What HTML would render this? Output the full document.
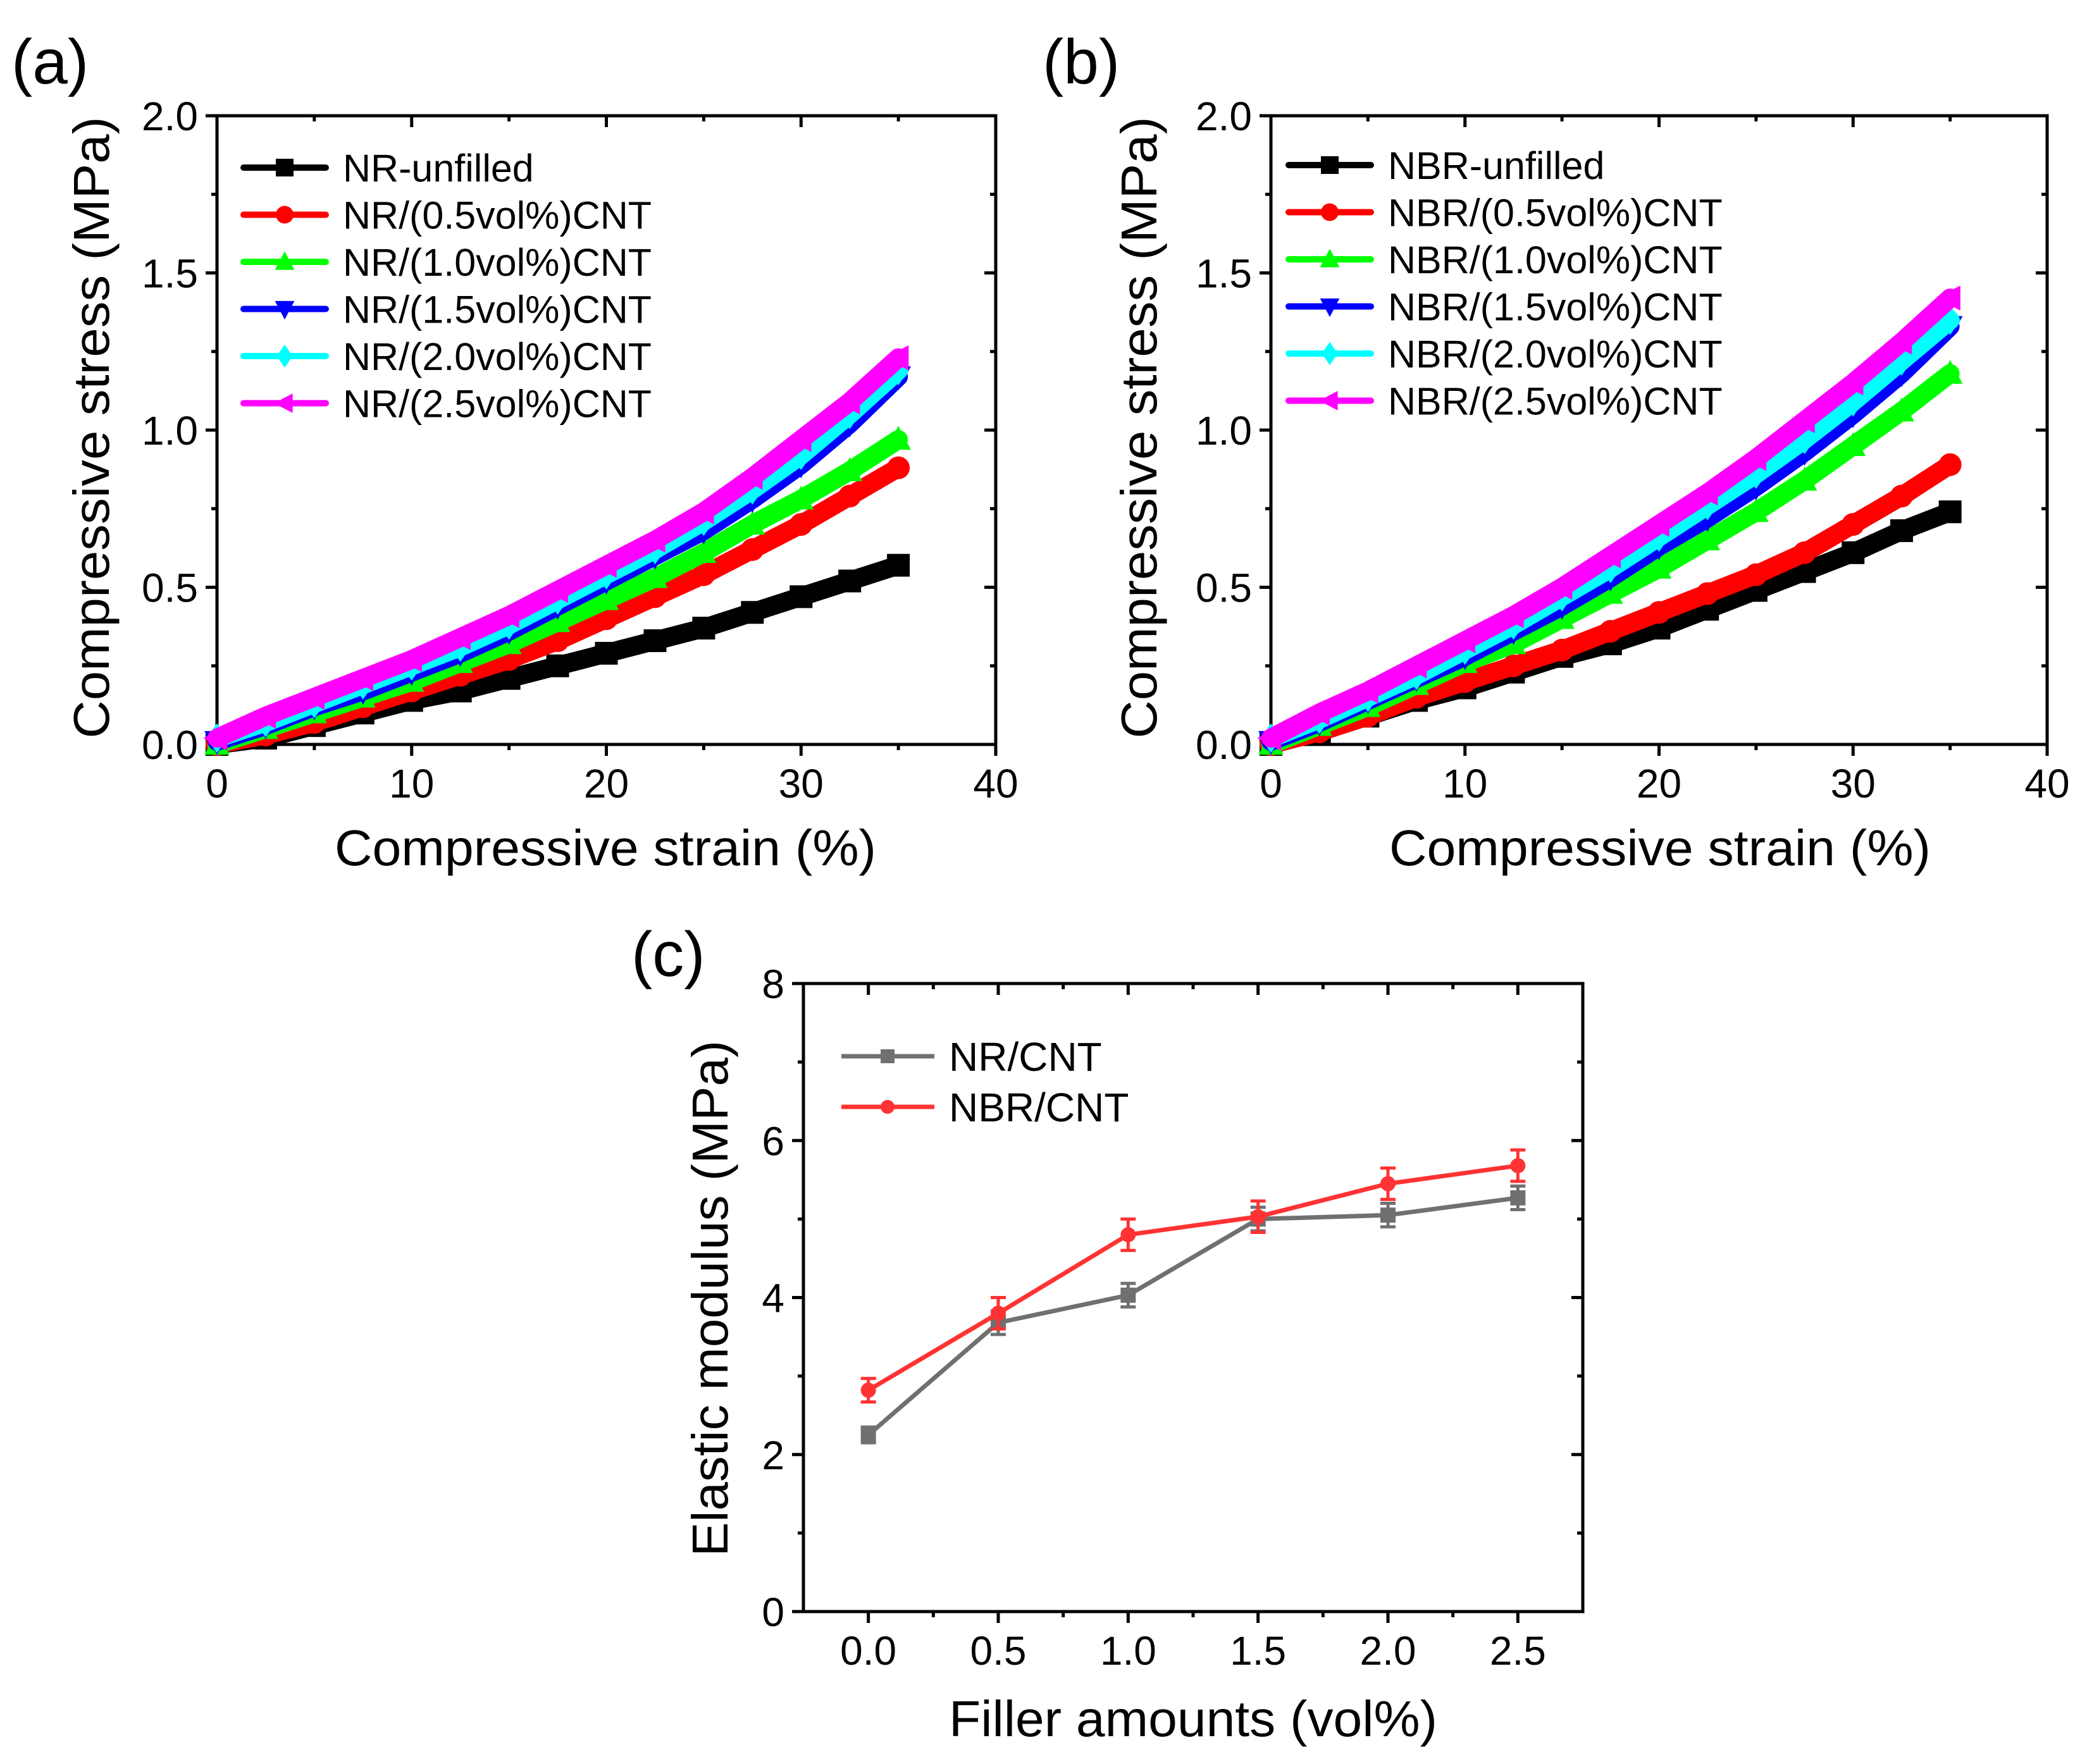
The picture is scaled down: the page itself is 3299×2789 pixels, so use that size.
<!DOCTYPE html>
<html><head><meta charset="utf-8"><style>
html,body{margin:0;padding:0;background:#fff}
svg{display:block}
text{font-family:"Liberation Sans",Arial,sans-serif;fill:#000}
</style></head><body>
<svg id="fig" width="3299" height="2789" viewBox="0 0 3299 2789" xmlns="http://www.w3.org/2000/svg">
<text x="18" y="132" font-size="100">(a)</text>
<text x="1648" y="132" font-size="100">(b)</text>
<text x="998" y="1543" font-size="100">(c)</text>
</svg>
<script>
// ---------- data ----------
const strain = [0,2.5,5,7.5,10,12.5,15,17.5,20,22.5,25,27.5,30,32.5,35];
const namesA = ["NR-unfilled","NR/(0.5vol%)CNT","NR/(1.0vol%)CNT","NR/(1.5vol%)CNT","NR/(2.0vol%)CNT","NR/(2.5vol%)CNT"];
const namesB = ["NBR-unfilled","NBR/(0.5vol%)CNT","NBR/(1.0vol%)CNT","NBR/(1.5vol%)CNT","NBR/(2.0vol%)CNT","NBR/(2.5vol%)CNT"];
const a0 = [0,0.02,0.06,0.10,0.14,0.17,0.21,0.25,0.29,0.33,0.37,0.42,0.47,0.52,0.57];
const a1 = [0,0.03,0.07,0.12,0.17,0.22,0.27,0.33,0.40,0.47,0.54,0.62,0.70,0.79,0.88];
const a2 = [0,0.05,0.10,0.15,0.20,0.26,0.32,0.39,0.46,0.53,0.61,0.70,0.78,0.87,0.97];
const a3 = [0.01,0.06,0.12,0.17,0.23,0.29,0.36,0.44,0.52,0.60,0.68,0.78,0.89,1.02,1.17];
const a4 = [0.02,0.07,0.13,0.19,0.25,0.31,0.38,0.46,0.54,0.62,0.71,0.81,0.92,1.05,1.19];
const a5 = [0.02,0.09,0.15,0.21,0.27,0.34,0.41,0.49,0.57,0.65,0.74,0.85,0.97,1.09,1.23];
const b0 = [0,0.04,0.09,0.14,0.18,0.23,0.28,0.32,0.37,0.43,0.49,0.55,0.61,0.68,0.74];
const b1 = [0,0.04,0.09,0.15,0.20,0.25,0.30,0.36,0.42,0.48,0.54,0.61,0.70,0.79,0.89];
const b2 = [0,0.06,0.12,0.19,0.26,0.32,0.40,0.48,0.56,0.65,0.74,0.84,0.95,1.06,1.18];
const b3 = [0.01,0.07,0.14,0.21,0.28,0.36,0.44,0.53,0.63,0.72,0.82,0.93,1.05,1.18,1.33];
const b4 = [0.02,0.08,0.15,0.22,0.30,0.38,0.47,0.56,0.66,0.76,0.86,0.97,1.09,1.22,1.35];
const b5 = [0.02,0.10,0.17,0.25,0.33,0.41,0.50,0.60,0.70,0.80,0.91,1.03,1.15,1.28,1.42];
const strainTicks = ["0","10","20","30","40"];
const stressTicks = ["0.0","0.5","1.0","1.5","2.0"];
const filler = [0,0.5,1.0,1.5,2.0,2.5];
const fillerTicks = ["0.0","0.5","1.0","1.5","2.0","2.5"];
const modTicks = ["0","2","4","6","8"];
const nrMod = [2.25,3.68,4.03,5.00,5.05,5.27];
const nrErr = [0.10,0.15,0.15,0.15,0.15,0.15];
const nbrMod = [2.82,3.80,4.80,5.03,5.45,5.68];
const nbrErr = [0.15,0.20,0.20,0.20,0.20,0.20];

const colors = ["#000000","#ff0000","#00ff00","#0000ff","#00ffff","#ff00ff"];
const shapes = ["square","circle","up","down","diamond","left"];
const NS = "http://www.w3.org/2000/svg";
const svg = document.getElementById("fig");
function mk(tag, attrs, parent){const e=document.createElementNS(NS,tag);for(const k in attrs)e.setAttribute(k,attrs[k]);(parent||svg).appendChild(e);return e;}
function marker(shape,x,y,s,col,parent){
  let e;
  if(shape==="square") e=mk("rect",{x:x-s/2,y:y-s/2,width:s,height:s,fill:col},parent);
  else if(shape==="circle") e=mk("circle",{cx:x,cy:y,r:s/2,fill:col},parent);
  else if(shape==="up") e=mk("polygon",{points:`${x},${y-s*0.6} ${x+s*0.55},${y+s*0.45} ${x-s*0.55},${y+s*0.45}`,fill:col},parent);
  else if(shape==="down") e=mk("polygon",{points:`${x},${y+s*0.6} ${x+s*0.55},${y-s*0.45} ${x-s*0.55},${y-s*0.45}`,fill:col},parent);
  else if(shape==="diamond") e=mk("polygon",{points:`${x},${y-s*0.65} ${x+s*0.45},${y} ${x},${y+s*0.65} ${x-s*0.45},${y}`,fill:col},parent);
  else e=mk("polygon",{points:`${x-s*0.6},${y} ${x+s*0.45},${y-s*0.55} ${x+s*0.45},${y+s*0.55}`,fill:col},parent);
  return e;
}
function axesFrame(g,L,R,T,B,xmin,xmax,ymin,ymax,xMaj,xLabels,yMaj,yLabels,xTickVals,name){
  const sx=v=>L+(v-xmin)/(xmax-xmin)*(R-L);
  const sy=v=>B-(v-ymin)/(ymax-ymin)*(B-T);
  const fr=mk("rect",{x:L,y:T,width:R-L,height:B-T,fill:"none",stroke:"#000","stroke-width":5},g);
  
  
  xTickVals.forEach((v,i)=>{
    const x=sx(v);
    mk("line",{x1:x,y1:B,x2:x,y2:B+18,stroke:"#000","stroke-width":5},g);
    mk("line",{x1:x,y1:T,x2:x,y2:T+18,stroke:"#000","stroke-width":5},g);
    const t=mk("text",{x:x,y:B+84,"font-size":64,"text-anchor":"middle"},g);
    t.textContent=xLabels[i];
    
    
    const m=v+xMaj/2;
    if(m<xmax){const xm=sx(m);
      mk("line",{x1:xm,y1:B,x2:xm,y2:B+9,stroke:"#000","stroke-width":5},g);
      mk("line",{x1:xm,y1:T,x2:xm,y2:T+9,stroke:"#000","stroke-width":5},g);}
    const m2=v-xMaj/2;
    if(i===0&&m2>xmin){const xm=sx(m2);
      mk("line",{x1:xm,y1:B,x2:xm,y2:B+9,stroke:"#000","stroke-width":5},g);
      mk("line",{x1:xm,y1:T,x2:xm,y2:T+9,stroke:"#000","stroke-width":5},g);}
  });
  yLabels.forEach((lab,i)=>{
    const v=ymin+i*yMaj, y=sy(v);
    mk("line",{x1:L-18,y1:y,x2:L,y2:y,stroke:"#000","stroke-width":5},g);
    mk("line",{x1:R-18,y1:y,x2:R,y2:y,stroke:"#000","stroke-width":5},g);
    const t=mk("text",{x:L-30,y:y+23,"font-size":64,"text-anchor":"end"},g);
    t.textContent=lab;
    
    
    if(i<yLabels.length-1){const ym=sy(v+yMaj/2);
      mk("line",{x1:L-9,y1:ym,x2:L,y2:ym,stroke:"#000","stroke-width":5},g);
      mk("line",{x1:R-9,y1:ym,x2:R,y2:ym,stroke:"#000","stroke-width":5},g);}
  });
  return {sx,sy};
}
function stressPanel(L,R,T,B,series,names,legX,legY,name,xTitleX,yTitleX){
  const g=mk("g",{});
  
  
  const {sx,sy}=axesFrame(g,L,R,T,B,0,40,0,2,10,strainTicks,0.5,stressTicks,[0,10,20,30,40],name);
  const cg=mk("g",{},g);
  series.forEach((vals,k)=>{
    const pts=strain.map((s,i)=>`${sx(s)},${sy(vals[i])}`).join(" ");
    const pl=mk("polyline",{points:pts,fill:"none",stroke:colors[k],"stroke-width":30,"stroke-linejoin":"round","stroke-linecap":"round"},cg);
    
    
    strain.forEach((s,i)=>{const m=marker(shapes[k],sx(s),sy(vals[i]),36,colors[k],cg);
      
      });
  });
  names.forEach((nm,k)=>{
    const y=legY+k*74.5;
    const lg=mk("g",{},g);
    
    
    mk("line",{x1:legX,y1:y,x2:legX+130,y2:y,stroke:colors[k],"stroke-width":10,"stroke-linecap":"round"},lg);
    marker(shapes[k],legX+65,y,28,colors[k],lg);
    const t=mk("text",{x:legX+157,y:y+22,"font-size":61},lg);
    t.textContent=nm;
  });
  const xt=mk("text",{x:xTitleX,y:1368,"font-size":80,"text-anchor":"middle",textLength:856,lengthAdjust:"spacingAndGlyphs"},g);
  xt.textContent="Compressive strain (%)";
  
  
  const yt=mk("text",{x:0,y:0,"font-size":80,"text-anchor":"middle",textLength:983,lengthAdjust:"spacingAndGlyphs",transform:`translate(${yTitleX},676) rotate(-90)`},g);
  yt.textContent="Compressive stress (MPa)";
  
  
}
stressPanel(343,1574,183,1177,[a0,a1,a2,a3,a4,a5],namesA,385,265,"panel-a",957,172);
stressPanel(2009,3236,183,1177,[b0,b1,b2,b3,b4,b5],namesB,2037,261,"panel-b",2624,1828);

(function(){
  const g=mk("g",{});
  
  
  const L=1270,R=2502,T=1555,B=2548;
  const {sx,sy}=axesFrame(g,L,R,T,B,-0.25,2.75,0,8,0.5,fillerTicks,2,modTicks,filler,"panel-c");
  const sets=[[nrMod,nrErr,"#707070","square","NR/CNT"],[nbrMod,nbrErr,"#ff3333","circle","NBR/CNT"]];
  sets.forEach(([vals,errs,col,shp,nm],k)=>{
    const pts=filler.map((f,i)=>`${sx(f)},${sy(vals[i])}`).join(" ");
    const pl=mk("polyline",{points:pts,fill:"none",stroke:col,"stroke-width":7},g);
    
    
    filler.forEach((f,i)=>{
      const x=sx(f), y1=sy(vals[i]+errs[i]), y2=sy(vals[i]-errs[i]);
      mk("line",{x1:x,y1:y1,x2:x,y2:y2,stroke:col,"stroke-width":5},g);
      mk("line",{x1:x-12,y1:y1,x2:x+12,y2:y1,stroke:col,"stroke-width":5},g);
      mk("line",{x1:x-12,y1:y2,x2:x+12,y2:y2,stroke:col,"stroke-width":5},g);
      const m=marker(shp,x,sy(vals[i]),24,col,g);
      
      
    });
    const y=1670+k*80;
    const lg=mk("g",{},g);
    
    
    mk("line",{x1:1330,y1:y,x2:1477,y2:y,stroke:col,"stroke-width":7},lg);
    marker(shp,1403,y,22,col,lg);
    const t=mk("text",{x:1500,y:y+23,"font-size":64},lg);
    t.textContent=nm;
  });
  const xt=mk("text",{x:1886,y:2745,"font-size":80,"text-anchor":"middle",textLength:772,lengthAdjust:"spacingAndGlyphs"},g);
  xt.textContent="Filler amounts (vol%)";
  
  
  const yt=mk("text",{x:0,y:0,"font-size":80,"text-anchor":"middle",textLength:816,lengthAdjust:"spacingAndGlyphs",transform:"translate(1150,2053) rotate(-90)"},g);
  yt.textContent="Elastic modulus (MPa)";
  
  
})();
</script>
</body></html>
